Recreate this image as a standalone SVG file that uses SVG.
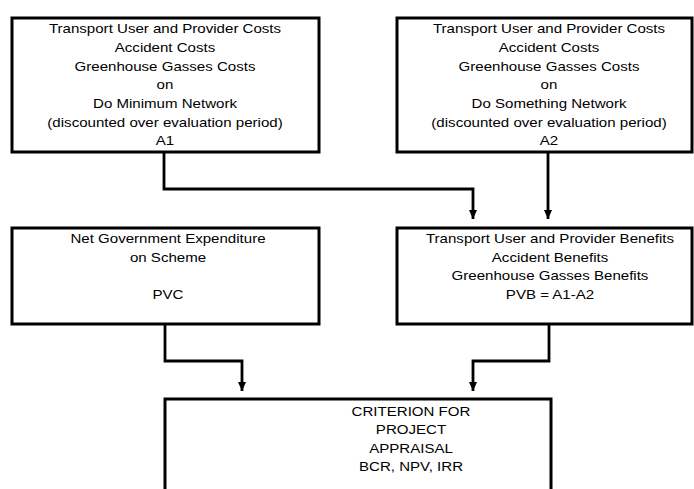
<svg xmlns="http://www.w3.org/2000/svg" width="694" height="489" viewBox="0 0 694 489">
<style>
.box{fill:#fff;stroke:#000;stroke-width:3}
.conn{fill:none;stroke:#000;stroke-width:2.8}
text{font-family:"Liberation Sans",Arial,sans-serif;font-size:13px;fill:#000;text-anchor:middle}
</style>
<defs>
<marker id="arr" markerUnits="userSpaceOnUse" markerWidth="10" markerHeight="10" viewBox="0 0 10 10" refX="5" refY="10" orient="auto-start-reverse">
<path d="M1,0 L9,0 L5,10 Z" fill="#000" transform="rotate(-90 5 5)"/>
</marker>
<marker id="ah" markerUnits="userSpaceOnUse" markerWidth="10" markerHeight="10" viewBox="0 0 10 10" refX="9" refY="5" orient="auto">
<path d="M0,1 L9,5 L0,9 Z" fill="#000"/>
</marker>
</defs>
<rect width="694" height="489" fill="#fff"/>
<g id="node-a1">
<rect class="box" x="12" y="18" width="307" height="134"/>
<g transform="translate(165,0) scale(1.16,1)">
<text x="0" y="33.3">Transport User and Provider Costs</text>
<text x="0" y="52">Accident Costs</text>
<text x="0" y="70.7">Greenhouse Gasses Costs</text>
<text x="0" y="89.4">on</text>
<text x="0" y="108">Do Minimum Network</text>
<text x="0" y="126.8">(discounted over evaluation period)</text>
<text x="0" y="145.5">A1</text>
</g>
</g>
<g id="node-a2">
<rect class="box" x="397" y="18" width="295" height="134"/>
<g transform="translate(549,0) scale(1.16,1)">
<text x="0" y="33.3">Transport User and Provider Costs</text>
<text x="0" y="52">Accident Costs</text>
<text x="0" y="70.7">Greenhouse Gasses Costs</text>
<text x="0" y="89.4">on</text>
<text x="0" y="108">Do Something Network</text>
<text x="0" y="126.8">(discounted over evaluation period)</text>
<text x="0" y="145.5">A2</text>
</g>
</g>
<g id="node-pvc">
<rect class="box" x="12" y="228" width="307" height="96"/>
<g transform="translate(168,0) scale(1.16,1)">
<text x="0" y="243">Net Government Expenditure</text>
<text x="0" y="261.7">on Scheme</text>
<text x="0" y="299">PVC</text>
</g>
</g>
<g id="node-pvb">
<rect class="box" x="397" y="228" width="295" height="96"/>
<g transform="translate(550,0) scale(1.16,1)">
<text x="0" y="243">Transport User and Provider Benefits</text>
<text x="0" y="261.7">Accident Benefits</text>
<text x="0" y="280.4">Greenhouse Gasses Benefits</text>
<text x="0" y="299">PVB = A1-A2</text>
</g>
</g>
<g id="node-criterion">
<rect class="box" x="165" y="399" width="386" height="110"/>
<g transform="translate(411,0) scale(1.16,1)">
<text x="0" y="416">CRITERION FOR</text>
<text x="0" y="434.5">PROJECT</text>
<text x="0" y="453">APPRAISAL</text>
<text x="0" y="471.5">BCR, NPV, IRR</text>
</g>
</g>
<g id="connectors">
<path class="conn" d="M164,152 V189 H473 V219" marker-end="url(#ah)"/>
<path class="conn" d="M548,152 V219" marker-end="url(#ah)"/>
<path class="conn" d="M165,324 V361 H242 V391" marker-end="url(#ah)"/>
<path class="conn" d="M549,324 V361 H473 V391" marker-end="url(#ah)"/>
</g>
</svg>
